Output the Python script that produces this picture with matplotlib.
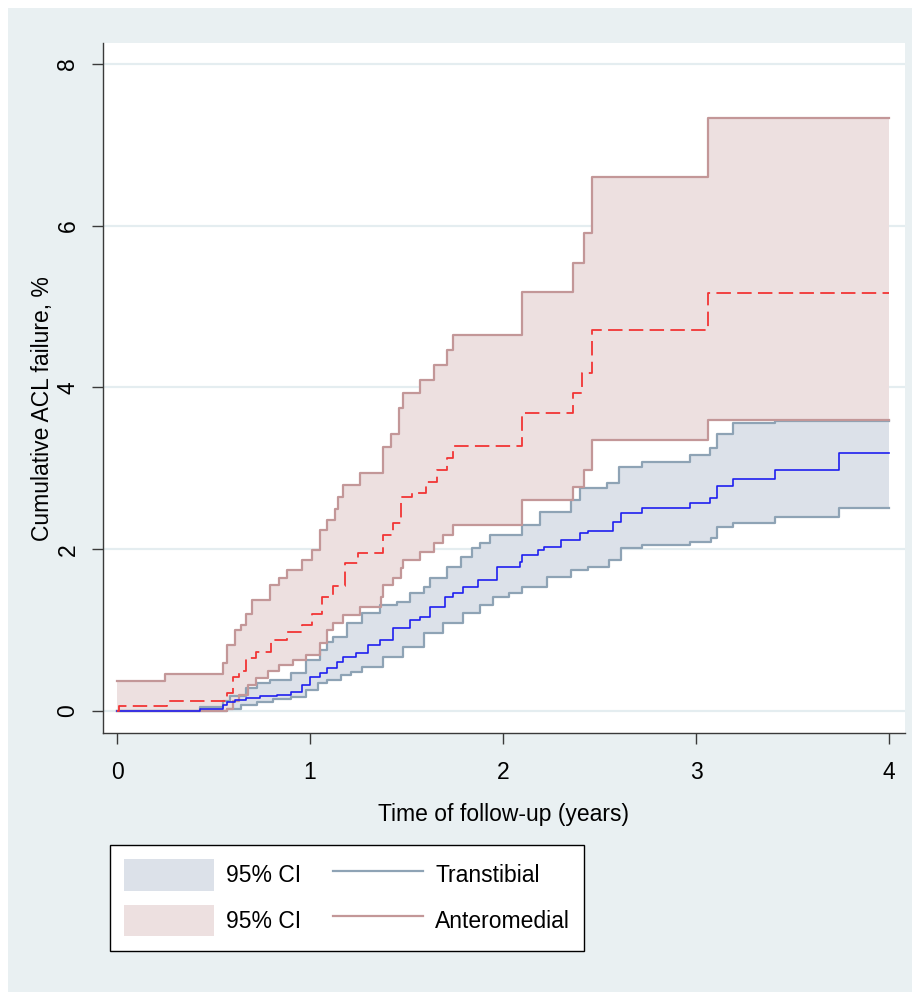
import numpy as np
import matplotlib
matplotlib.use('Agg')
import matplotlib.pyplot as plt
from matplotlib.patches import Patch, Rectangle
from matplotlib.lines import Line2D

plt.rcParams['font.family'] = ['Liberation Sans', 'DejaVu Sans']

# cumulative failure (%) by years of follow-up, Kaplan-Meier style steps
t_end = 4.0

# transtibial estimate
tt_time = [0.0, 0.43, 0.55, 0.57, 0.61, 0.67, 0.74, 0.83, 0.90, 0.96, 1.00, 1.05, 1.09,
           1.14, 1.17, 1.24, 1.30, 1.36, 1.43, 1.52, 1.57, 1.62, 1.70, 1.74, 1.79, 1.87,
           1.97, 2.09, 2.10, 2.18, 2.21, 2.30, 2.40, 2.44, 2.57, 2.61, 2.72, 2.97, 3.07,
           3.11, 3.19, 3.41, 3.74]
tt_est = [0.0, 0.03, 0.07, 0.11, 0.14, 0.16, 0.18, 0.20, 0.24, 0.32, 0.42, 0.47, 0.53,
          0.61, 0.67, 0.72, 0.82, 0.88, 1.02, 1.13, 1.16, 1.29, 1.41, 1.46, 1.53, 1.62,
          1.78, 1.84, 1.93, 1.99, 2.03, 2.11, 2.20, 2.22, 2.34, 2.45, 2.51, 2.57, 2.63,
          2.78, 2.87, 2.98, 3.19]

# transtibial 95% CI
tt_hi_time = [0.0, 0.43, 0.55, 0.585, 0.67, 0.725, 0.79, 0.90, 0.98, 1.05, 1.09, 1.12,
              1.19, 1.27, 1.36, 1.45, 1.52, 1.59, 1.62, 1.71, 1.78, 1.84, 1.88, 1.93,
              2.10, 2.19, 2.35, 2.40, 2.54, 2.60, 2.72, 2.97, 3.07, 3.11, 3.19, 3.41]
tt_hi = [0.0, 0.05, 0.12, 0.18, 0.28, 0.35, 0.38, 0.47, 0.63, 0.75, 0.85, 0.91,
         1.09, 1.21, 1.31, 1.35, 1.46, 1.53, 1.64, 1.78, 1.90, 2.01, 2.08, 2.18,
         2.30, 2.46, 2.61, 2.76, 2.82, 3.02, 3.08, 3.16, 3.25, 3.43, 3.56, 3.59]
tt_lo_time = [0.0, 0.57, 0.64, 0.725, 0.81, 0.90, 0.98, 1.04, 1.09, 1.16, 1.21, 1.27,
              1.38, 1.48, 1.59, 1.69, 1.79, 1.88, 1.95, 2.03, 2.10, 2.23, 2.35, 2.44,
              2.55, 2.61, 2.72, 2.97, 3.08, 3.11, 3.19, 3.41, 3.74]
tt_lo = [0.0, 0.02, 0.07, 0.11, 0.15, 0.17, 0.26, 0.34, 0.38, 0.44, 0.48, 0.54,
         0.67, 0.79, 0.96, 1.09, 1.21, 1.31, 1.41, 1.46, 1.53, 1.66, 1.74, 1.78,
         1.87, 2.01, 2.05, 2.09, 2.14, 2.27, 2.32, 2.40, 2.51]

# anteromedial estimate
am_time = [0.0, 0.01, 0.26, 0.57, 0.60, 0.63, 0.67, 0.72, 0.80, 0.88, 0.96, 1.01, 1.06,
           1.12, 1.18, 1.25, 1.38, 1.43, 1.47, 1.53, 1.60, 1.66, 1.71, 1.74, 2.10, 2.36,
           2.41, 2.46, 3.06]
am_est = [0.0, 0.06, 0.12, 0.22, 0.42, 0.50, 0.65, 0.73, 0.88, 0.98, 1.06, 1.20, 1.41,
          1.55, 1.83, 1.95, 2.18, 2.32, 2.64, 2.69, 2.83, 2.98, 3.13, 3.27, 3.68, 3.93,
          4.18, 4.71, 5.17]

# anteromedial 95% CI
am_hi_time = [0.0, 0.25, 0.55, 0.57, 0.61, 0.64, 0.67, 0.70, 0.79, 0.84, 0.88, 0.96,
              1.01, 1.05, 1.09, 1.13, 1.145, 1.17, 1.26, 1.38, 1.42, 1.46, 1.48, 1.57,
              1.64, 1.71, 1.74, 2.10, 2.36, 2.42, 2.46, 3.06]
am_hi = [0.37, 0.46, 0.59, 0.82, 1.00, 1.06, 1.20, 1.37, 1.56, 1.65, 1.74, 1.87,
         1.99, 2.24, 2.36, 2.50, 2.64, 2.79, 2.94, 3.26, 3.43, 3.75, 3.93, 4.09,
         4.28, 4.46, 4.65, 5.18, 5.54, 5.91, 6.60, 7.33]
am_lo_time = [0.0, 0.57, 0.60, 0.63, 0.68, 0.72, 0.78, 0.84, 0.91, 0.98, 1.05, 1.09,
              1.12, 1.17, 1.26, 1.37, 1.38, 1.43, 1.47, 1.48, 1.57, 1.64, 1.69, 1.74,
              2.10, 2.36, 2.42, 2.46, 3.06]
am_lo = [0.0, 0.03, 0.12, 0.20, 0.32, 0.41, 0.50, 0.57, 0.63, 0.69, 0.84, 1.00,
         1.09, 1.19, 1.29, 1.41, 1.56, 1.64, 1.77, 1.87, 1.97, 2.08, 2.18, 2.30,
         2.61, 2.77, 2.98, 3.35, 3.60]

x_ticks = [0, 1, 2, 3, 4]
y_ticks = [0, 2, 4, 6, 8]

bg_color = '#e9f0f2'
grid_color = '#e4edf0'
tt_fill, tt_edge, tt_line = '#dce1e9', '#8ea3b5', '#1f1ff0'
am_fill, am_edge, am_line = '#ede0e0', '#c39798', '#f23535'
fs = 16.5


def _extend(times, vals):
    # carry the last value out to the end of follow-up
    return np.append(times, t_end), np.append(vals, vals[-1])


def _step_eval(grid, times, vals):
    idx = np.searchsorted(times, grid, side='right') - 1
    return np.asarray(vals)[np.clip(idx, 0, None)]


def _band(ax, lo_t, lo, hi_t, hi, fill, edge):
    grid = np.union1d(np.union1d(lo_t, hi_t), [t_end])
    ax.fill_between(grid, _step_eval(grid, lo_t, lo), _step_eval(grid, hi_t, hi),
                    step='post', color=fill, lw=0, zorder=2)
    for t, v in ((lo_t, lo), (hi_t, hi)):
        tx, vx = _extend(t, v)
        ax.step(tx, vx, where='post', color=edge, lw=1.6, zorder=3)


fig = plt.figure(figsize=(9.16, 9.94), dpi=100, facecolor='white')
fig.patches.append(Rectangle((8 / 916, 2 / 994), 904 / 916, 984 / 994,
                             transform=fig.transFigure, facecolor=bg_color,
                             edgecolor='none', zorder=-10))

ax = fig.add_axes([103 / 916, 261 / 994, 802 / 916, 690 / 994])
ax.set_facecolor('white')

for yv in y_ticks:
    ax.axhline(yv, color=grid_color, lw=1.6, zorder=1)

_band(ax, tt_lo_time, tt_lo, tt_hi_time, tt_hi, tt_fill, tt_edge)
_band(ax, am_lo_time, am_lo, am_hi_time, am_hi, am_fill, am_edge)

tx, vx = _extend(tt_time, tt_est)
ax.step(tx, vx, where='post', color=tt_line, lw=1.2, zorder=5)
tx, vx = _extend(am_time, am_est)
ax.step(tx, vx, where='post', color=am_line, lw=1.3, dashes=(8, 3.5), zorder=5)

ax.set_xlim(-0.073, 4.083)
ax.set_ylim(-0.272, 8.257)
ax.set_xticks(x_ticks)
ax.set_yticks(y_ticks)
ax.set_yticklabels([str(v) for v in y_ticks], rotation=90, va='center')

for side in ('top', 'right'):
    ax.spines[side].set_visible(False)
for side in ('left', 'bottom'):
    ax.spines[side].set_color('#3a3a3a')
    ax.spines[side].set_linewidth(1.0)
ax.tick_params(axis='both', length=8, width=1, color='#3a3a3a', labelsize=fs)
ax.tick_params(axis='x', pad=12)
ax.tick_params(axis='y', pad=9)

ax.set_xlabel('Time of follow-up (years)', fontsize=fs)
ax.set_ylabel('Cumulative ACL failure, %', fontsize=fs)
ax.xaxis.set_label_coords(0.5, -0.101)
ax.yaxis.set_label_coords(-0.061, 0.47)

handles = [Patch(facecolor=tt_fill, edgecolor='none'),
           Patch(facecolor=am_fill, edgecolor='none'),
           Line2D([], [], color=tt_edge, lw=1.6),
           Line2D([], [], color=am_edge, lw=1.6)]
labels = ['95% CI', '95% CI', 'Transtibial', 'Anteromedial']
leg = fig.legend(handles, labels, ncol=2, loc='upper left',
                 bbox_to_anchor=(110 / 916, 1 - 845 / 994), fontsize=fs,
                 frameon=True, fancybox=False, framealpha=1, edgecolor='black',
                 handlelength=3.9, handleheight=1.75, handletextpad=0.55,
                 labelspacing=0.6, columnspacing=1.4, borderpad=0.62,
                 borderaxespad=0)
leg.get_frame().set_linewidth(1.0)

fig.savefig('out.png', dpi=100, facecolor='white')
